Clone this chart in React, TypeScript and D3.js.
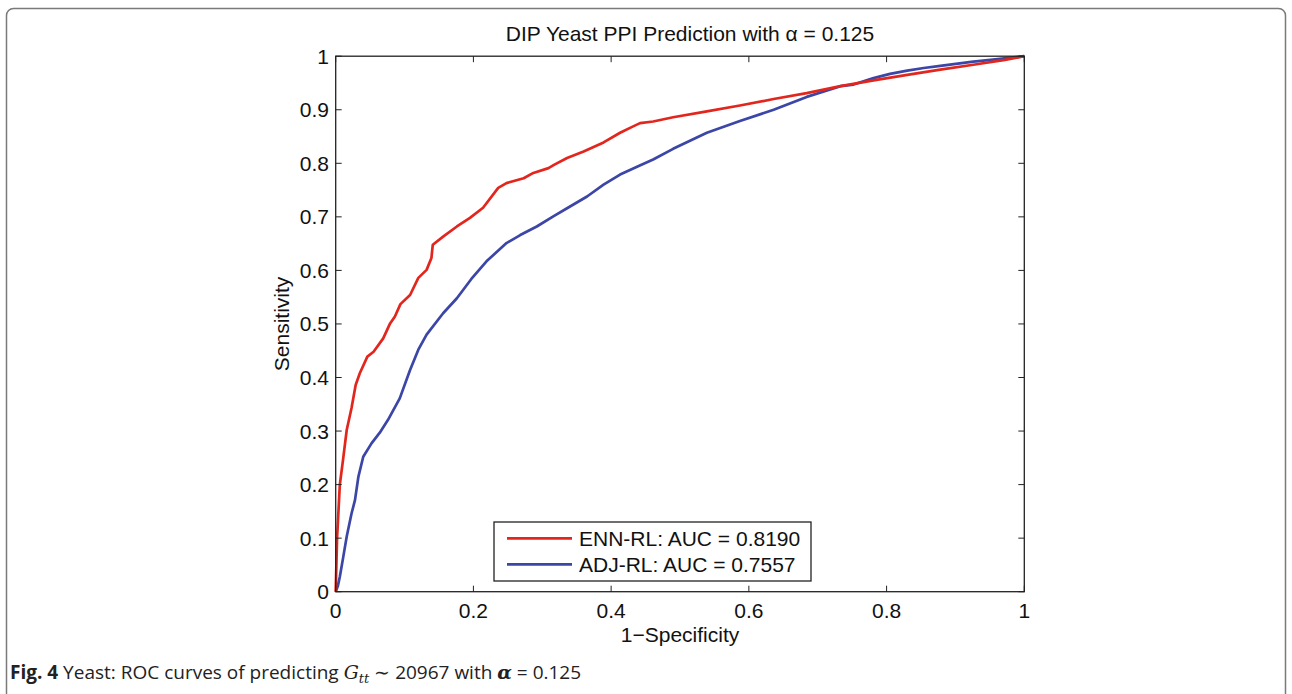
import React from "react";
import * as d3 from "d3";

const ennFpr = [0, 0.002, 0.006, 0.011, 0.016, 0.023, 0.029, 0.035, 0.046, 0.055, 0.069, 0.079, 0.086, 0.094, 0.108, 0.12, 0.132, 0.139, 0.141, 0.156, 0.176, 0.195, 0.214, 0.236, 0.248, 0.273, 0.287, 0.309, 0.317, 0.336, 0.36, 0.389, 0.413, 0.432, 0.442, 0.461, 0.49, 0.539, 0.587, 0.636, 0.684, 0.733, 0.781, 0.83, 0.878, 0.926, 0.972, 1];
const ennTpr = [0, 0.1, 0.2, 0.25, 0.302, 0.343, 0.386, 0.408, 0.439, 0.448, 0.473, 0.501, 0.514, 0.537, 0.554, 0.586, 0.601, 0.623, 0.648, 0.663, 0.682, 0.698, 0.717, 0.754, 0.763, 0.772, 0.782, 0.791, 0.797, 0.81, 0.822, 0.839, 0.857, 0.869, 0.875, 0.878, 0.886, 0.897, 0.908, 0.92, 0.931, 0.944, 0.955, 0.965, 0.975, 0.984, 0.993, 1];

const adjFpr = [0, 0.003, 0.006, 0.011, 0.016, 0.023, 0.028, 0.033, 0.04, 0.052, 0.064, 0.076, 0.093, 0.108, 0.12, 0.132, 0.156, 0.176, 0.197, 0.219, 0.248, 0.268, 0.292, 0.316, 0.336, 0.365, 0.389, 0.413, 0.44, 0.461, 0.49, 0.539, 0.587, 0.636, 0.684, 0.733, 0.752, 0.781, 0.805, 0.83, 0.854, 0.878, 0.926, 0.951, 1];
const adjTpr = [0, 0.01, 0.028, 0.065, 0.103, 0.146, 0.171, 0.215, 0.252, 0.277, 0.297, 0.321, 0.361, 0.414, 0.452, 0.48, 0.52, 0.548, 0.584, 0.617, 0.651, 0.666, 0.682, 0.701, 0.716, 0.738, 0.76, 0.779, 0.795, 0.807, 0.827, 0.857, 0.879, 0.9, 0.924, 0.944, 0.947, 0.959, 0.967, 0.973, 0.978, 0.982, 0.99, 0.993, 1];

const xTicks = [0, 0.2, 0.4, 0.6, 0.8, 1];
const yTicks = [0, 0.1, 0.2, 0.3, 0.4, 0.5, 0.6, 0.7, 0.8, 0.9, 1];

const seriesNames = ["ENN-RL: AUC = 0.8190", "ADJ-RL: AUC = 0.7557"];
const seriesColors = ["#e3261d", "#3c46a6"];

export default function App() {
  const W = 1292, H = 694;
  const x0 = 335.7, x1 = 1024.3, y0 = 591.7, y1 = 56.2;
  const x = d3.scaleLinear().domain([0, 1]).range([x0, x1]);
  const y = d3.scaleLinear().domain([0, 1]).range([y0, y1]);
  const line = d3.line<[number, number]>().x(d => x(d[0])).y(d => y(d[1]));
  const enn = ennFpr.map((v, i) => [v, ennTpr[i]] as [number, number]);
  const adj = adjFpr.map((v, i) => [v, adjTpr[i]] as [number, number]);
  const font = "Liberation Sans, Arial, Helvetica, sans-serif";
  const fs = 21;
  const tl = 6;
  const axisColor = "#222";
  const cx = (x0 + x1) / 2;
  const leg = { x: 494, y: 522, w: 317, h: 59 };

  return (
    <svg width={W} height={H} style={{ position: "absolute", left: 0, top: 0, background: "#fff" }}>
      <rect x={6.5} y={8.5} width={1279} height={740} rx={7} fill="none" stroke="#7a7a7a" strokeWidth={1.5} />
      <text x={cx + 10} y={41} textAnchor="middle" fontFamily={font} fontSize={fs} fill="#111">DIP Yeast PPI Prediction with α = 0.125</text>

      {/* curves */}
      <path d={line(adj) || ""} fill="none" stroke={seriesColors[1]} strokeWidth={2.7} strokeLinejoin="round" />
      <path d={line(enn) || ""} fill="none" stroke={seriesColors[0]} strokeWidth={2.7} strokeLinejoin="round" />

      {/* box */}
      <rect x={x0} y={y1} width={x1 - x0} height={y0 - y1} fill="none" stroke={axisColor} strokeWidth={1.3} />
      {xTicks.map(t => (
        <g key={"x" + t}>
          <line x1={x(t)} x2={x(t)} y1={y0} y2={y0 - tl} stroke={axisColor} strokeWidth={1} />
          <line x1={x(t)} x2={x(t)} y1={y1} y2={y1 + tl} stroke={axisColor} strokeWidth={1} />
          <text x={x(t)} y={618} textAnchor="middle" fontFamily={font} fontSize={fs} fill="#111">{String(t)}</text>
        </g>
      ))}
      {yTicks.map(t => (
        <g key={"y" + t}>
          <line x1={x0} x2={x0 + tl} y1={y(t)} y2={y(t)} stroke={axisColor} strokeWidth={1} />
          <line x1={x1} x2={x1 - tl} y1={y(t)} y2={y(t)} stroke={axisColor} strokeWidth={1} />
          <text x={329} y={y(t) + 7.5} textAnchor="end" fontFamily={font} fontSize={fs} fill="#111">{String(t)}</text>
        </g>
      ))}
      <text x={cx} y={642} textAnchor="middle" fontFamily={font} fontSize={fs} fill="#111">1−Specificity</text>
      <text transform={`translate(289,${(y0 + y1) / 2}) rotate(-90)`} textAnchor="middle" fontFamily={font} fontSize={fs} fill="#111">Sensitivity</text>

      {/* legend */}
      <rect x={leg.x} y={leg.y} width={leg.w} height={leg.h} fill="#fff" stroke={axisColor} strokeWidth={1.3} />
      {seriesNames.map((n, i) => (
        <g key={n}>
          <line x1={507} x2={572} y1={538.3 + i * 26} y2={538.3 + i * 26} stroke={seriesColors[i]} strokeWidth={2.7} />
          <text x={579} y={546 + i * 26} fontFamily={font} fontSize={fs} fill="#111">{n}</text>
        </g>
      ))}

      {/* caption */}
      <text x={10} y={679} fontFamily="Open Sans, Noto Sans, sans-serif" fontSize={19} fill="#222">
        <tspan fontWeight="bold">Fig. 4</tspan>
        <tspan> Yeast: ROC curves of predicting </tspan>
        <tspan fontStyle="italic" fontFamily="DejaVu Serif, serif">G</tspan>
        <tspan fontStyle="italic" fontFamily="DejaVu Serif, serif" fontSize={13} dy={4}>tt</tspan>
        <tspan dy={-4}> ∼ 20967 with </tspan>
        <tspan fontStyle="italic" fontWeight="bold" fontFamily="DejaVu Serif, serif">α</tspan>
        <tspan> = 0.125</tspan>
      </text>
    </svg>
  );
}
